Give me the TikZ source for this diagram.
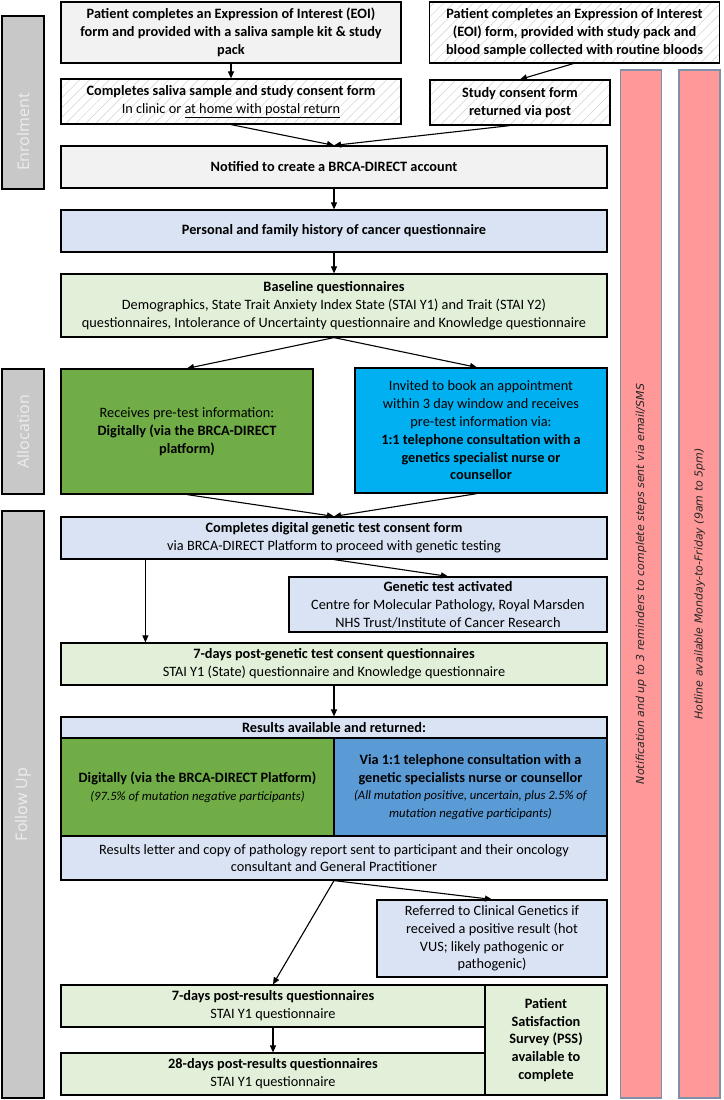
\documentclass[tikz,border=0pt]{standalone}
\usepackage{fontspec}
\setmainfont{Carlito}
\newfontfamily\sidefont{Open Sans}
\newfontfamily\barfont{DejaVu Sans}
\usetikzlibrary{arrows.meta,patterns.meta,calc}
\definecolor{lgray}{HTML}{F2F2F2}
\definecolor{lblue}{HTML}{DAE3F3}
\definecolor{lgreen}{HTML}{E2F0D9}
\definecolor{dgreen}{HTML}{70AD47}
\definecolor{cyanb}{HTML}{00B0F0}
\definecolor{midblue}{HTML}{5B9BD5}
\definecolor{sidegray}{HTML}{C8C8C8}
\definecolor{pinkbar}{HTML}{FF9999}
\definecolor{pinkedge}{HTML}{7F8FA8}
\begin{document}
\begin{tikzpicture}[x=1pt,y=-1pt,
  box/.style={draw=black, line width=1.2pt, inner sep=0pt, align=center,
    font=\fontsize{14.3}{17.8}\selectfont},
  hatch/.style={pattern={Lines[angle=45,distance=7pt,line width=0.5pt]}, pattern color=black!18},
  arr/.style={line width=1.1pt, -{Triangle[length=7pt,width=6pt]}},
  sidebox/.style={draw=black, line width=2pt, fill=sidegray, minimum width=42pt},
  sidetext/.style={text=white!93!black, rotate=90, font=\sidefont\fontsize{16}{18}\selectfont},
  pinkbox/.style={draw=pinkedge, line width=1.4pt, fill=pinkbar, minimum width=41pt, minimum height=1028pt},
  pinktext/.style={rotate=90, font=\barfont\itshape\fontsize{11}{13}\selectfont, text=black!85}
]
\useasboundingbox (0,0) rectangle (723,1100);

% side labels
\node[sidebox, minimum height=173pt] (enr) at (23,102.5) {};
\node[sidetext] (enrt) at (23,132) {Enrolment};
\node[sidebox, minimum height=125pt] (alc) at (23,431.5) {};
\node[sidetext] (alct) at (23,431.5) {Allocation};
\node[sidebox, minimum height=587pt] (fol) at (23,804.5) {};
\node[sidetext] (folt) at (23,804.5) {Follow Up};

% pink bars
\node[pinkbox] (p1) at (641,584) {};
\node[pinktext] (p1t) at (641,584) {Notification and up to 3 reminders to complete steps sent via email/SMS};
\node[pinkbox] (p2) at (699.5,584) {};
\node[pinktext] (p2t) at (699.5,584) {Hotline available Monday-to-Friday (9am to 5pm)};

% enrolment
\node[box, fill=lgray, minimum width=340pt, minimum height=61pt] (A) at (231,32.5)
  {\textbf{Patient completes an Expression of Interest (EOI)}\\\textbf{form and provided with a saliva sample kit \& study}\\\textbf{pack}};
\node[box, hatch, minimum width=290pt, minimum height=61pt] (B) at (574.5,32.5)
  {\textbf{Patient completes an Expression of Interest}\\\textbf{(EOI) form, provided with study pack and}\\\textbf{blood sample collected with routine bloods}};
\node[box, hatch, minimum width=340pt, minimum height=45pt] (C) at (231,101.5)
  {\textbf{Completes saliva sample and study consent form}\\In clinic or \underline{at home with postal return}};
\node[box, hatch, minimum width=180pt, minimum height=45pt] (D) at (520,102.5)
  {\textbf{Study consent form}\\\textbf{returned via post}};
\node[box, fill=lgray, minimum width=546pt, minimum height=42pt] (E) at (334,167)
  {\textbf{Notified to create a BRCA-DIRECT account}};
\node[box, fill=lblue, minimum width=546pt, minimum height=42pt] (F) at (334,231)
  {\textbf{Personal and family history of cancer questionnaire}};
\node[box, fill=lgreen, minimum width=546pt, minimum height=63pt] (G) at (334,305.5)
  {\textbf{Baseline questionnaires}\\Demographics, State Trait Anxiety Index State (STAI Y1) and Trait (STAI Y2)\\questionnaires, Intolerance of Uncertainty questionnaire and Knowledge questionnaire};

% allocation
\node[box, fill=dgreen, minimum width=252pt, minimum height=125pt] (H) at (187,431.5)
  {Receives pre-test information:\\\textbf{Digitally (via the BRCA-DIRECT}\\\textbf{platform)}};
\node[box, fill=cyanb, minimum width=252pt, minimum height=125pt] (I) at (481,430.5)
  {Invited to book an appointment\\within 3 day window and receives\\pre-test information via:\\\textbf{1:1 telephone consultation with a}\\\textbf{genetics specialist nurse or}\\\textbf{counsellor}};

% follow up
\node[box, fill=lblue, minimum width=546pt, minimum height=42pt] (J) at (334,538)
  {\textbf{Completes digital genetic test consent form}\\via BRCA-DIRECT Platform to proceed with genetic testing};
\node[box, fill=lblue, minimum width=318pt, minimum height=55pt] (K) at (448,604.5)
  {\textbf{Genetic test activated}\\Centre for Molecular Pathology, Royal Marsden\\NHS Trust/Institute of Cancer Research};
\node[box, fill=lgreen, minimum width=546pt, minimum height=42pt] (L) at (334,664)
  {\textbf{7-days post-genetic test consent questionnaires}\\STAI Y1 (State) questionnaire and Knowledge questionnaire};
\node[box, fill=lblue, minimum width=546pt, minimum height=21pt] (M) at (334,727.5)
  {\textbf{Results available and returned:}};
\node[box, fill=dgreen, minimum width=273pt, minimum height=98pt] (M2) at (197.5,787)
  {\textbf{Digitally (via the BRCA-DIRECT Platform)}\\{\fontsize{12.7}{16}\selectfont\itshape (97.5\% of mutation negative participants)}};
\node[box, fill=midblue, minimum width=273pt, minimum height=98pt] (M3) at (470.5,787)
  {\textbf{Via 1:1 telephone consultation with a}\\\textbf{genetic specialists nurse or counsellor}\\{\fontsize{12.7}{16}\selectfont\itshape (All mutation positive, uncertain, plus 2.5\% of}\\{\fontsize{12.7}{16}\selectfont\itshape mutation negative participants)}};
\node[box, fill=lblue, minimum width=546pt, minimum height=44pt] (M4) at (334,858)
  {Results letter and copy of pathology report sent to participant and their oncology\\consultant and General Practitioner};
\node[box, fill=lblue, minimum width=230pt, minimum height=77pt] (N) at (492,938.5)
  {Referred to Clinical Genetics if\\received a positive result (hot\\VUS; likely pathogenic or\\pathogenic)};
\node[box, fill=lgreen, minimum width=424pt, minimum height=42pt] (O) at (273,1006)
  {\textbf{7-days post-results questionnaires}\\STAI Y1 questionnaire};
\node[box, fill=lgreen, minimum width=424pt, minimum height=42pt] (P) at (273,1074)
  {\textbf{28-days post-results questionnaires}\\STAI Y1 questionnaire};
\node[box, fill=lgreen, minimum width=122pt, minimum height=110pt] (Q) at (546,1040)
  {\textbf{Patient}\\\textbf{Satisfaction}\\\textbf{Survey (PSS)}\\\textbf{available to}\\\textbf{complete}};

% connectors
\draw[arr] (A.south) -- (C.north);
\draw[arr] (B.south) -- (D.north);
\draw[arr] (C.south) -- (E.north);
\draw[arr] ([xshift=-10pt]D.south) -- (E.north);
\draw[arr] (E.south) -- (F.north);
\draw[arr] (F.south) -- (G.north);
\draw[arr] (G.south) -- (H.north);
\draw[arr] (G.south) -- ([xshift=-4pt]I.north);
\draw[arr] (H.south) -- (J.north);
\draw[arr] ([xshift=-4pt]I.south) -- (J.north);
\draw[arr] (J.south) -- (K.north);
\draw[arr] ([xshift=85pt]J.south west) -- ([xshift=85pt]L.north west);
\draw[arr] (L.south) -- (M.north);
\draw[arr] (M4.south) -- (N.north);
\draw[arr] (M4.south) -- (O.north);
\draw[arr] (O.south) -- (P.north);
\end{tikzpicture}
\end{document}
